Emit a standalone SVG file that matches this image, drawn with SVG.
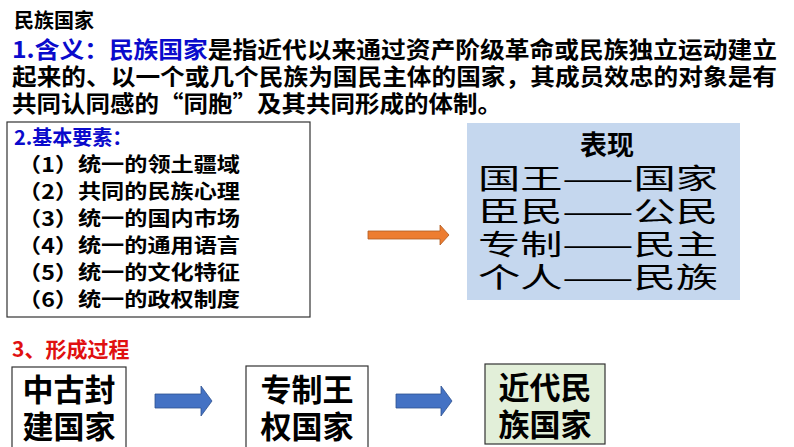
<svg xmlns="http://www.w3.org/2000/svg" width="794" height="447" viewBox="0 0 794 447">
<style>
text{font-family:"Noto Sans CJK SC","Liberation Sans",sans-serif;font-weight:bold;fill:#000}
.b{fill:#0a0acc}.r{fill:#e01010}
.it{font-size:20px;font-weight:bold}
.rw{font-size:28px;font-weight:normal}
.big{font-size:31px}
.bx{fill:#fff;stroke:#333;stroke-width:1.2}
</style>
<defs></defs>
<g id="intro">
<text x="14" y="28" font-size="20">民族国家</text>
<text x="12" y="58" font-size="23" textLength="765" lengthAdjust="spacingAndGlyphs"><tspan class="b">1.含义：民族国家</tspan>是指近代以来通过资产阶级革命或民族独立运动建立</text>
<text x="12" y="85" font-size="23" textLength="765" lengthAdjust="spacingAndGlyphs">起来的、以一个或几个民族为国民主体的国家，其成员效忠的对象是有</text>
<text x="12" y="112" font-size="23" textLength="490" lengthAdjust="spacingAndGlyphs">共同认同感的“同胞”及其共同形成的体制。</text>
</g>
<g id="elements">
<rect class="bx" x="7" y="122" width="303" height="195"/>
<text class="b" x="14" y="145" font-size="20">2.基本要素：</text>
<text class="it" x="18" y="172" textLength="222" lengthAdjust="spacingAndGlyphs">（1）统一的领土疆域</text>
<text class="it" x="18" y="199" textLength="222" lengthAdjust="spacingAndGlyphs">（2）共同的民族心理</text>
<text class="it" x="18" y="226" textLength="222" lengthAdjust="spacingAndGlyphs">（3）统一的国内市场</text>
<text class="it" x="18" y="253" textLength="222" lengthAdjust="spacingAndGlyphs">（4）统一的通用语言</text>
<text class="it" x="18" y="280" textLength="222" lengthAdjust="spacingAndGlyphs">（5）统一的文化特征</text>
<text class="it" x="18" y="307" textLength="222" lengthAdjust="spacingAndGlyphs">（6）统一的政权制度</text>
</g>
<g id="biaoxian">
<rect x="467" y="123" width="273" height="177" fill="#c5d7ee"/>
<text x="607" y="155" font-size="27" text-anchor="middle" font-family="'Noto Serif CJK SC','Noto Sans CJK SC',serif">表现</text>
<text class="rw" x="478" y="189" textLength="240" lengthAdjust="spacingAndGlyphs">国王——国家</text>
<text class="rw" x="478" y="222" textLength="240" lengthAdjust="spacingAndGlyphs">臣民——公民</text>
<text class="rw" x="478" y="255" textLength="240" lengthAdjust="spacingAndGlyphs">专制——民主</text>
<text class="rw" x="478" y="288" textLength="240" lengthAdjust="spacingAndGlyphs">个人——民族</text>
</g>
<text class="r" x="12" y="357" font-size="21">3、形成过程</text>
<g id="n1"><rect class="bx" x="12" y="367" width="114" height="82"/>
<text class="big" x="69" y="401" text-anchor="middle">中古封</text><text class="big" x="69" y="438" text-anchor="middle">建国家</text></g>
<g id="n2"><rect class="bx" x="246" y="366" width="122" height="83"/>
<text class="big" x="307" y="401" text-anchor="middle">专制王</text><text class="big" x="307" y="438" text-anchor="middle">权国家</text></g>
<g id="n3"><rect x="485" y="364" width="120" height="80" fill="#e2efd9" stroke="#333" stroke-width="1.2"/>
<text class="big" x="545" y="399" text-anchor="middle">近代民</text><text class="big" x="545" y="436" text-anchor="middle">族国家</text></g>
<g id="connectors">
<path d="M368 231H440V225L449 235L440 245V239H368Z" fill="#ed7d31" stroke="#ae5a21" stroke-width="0.8"/>
<path d="M155 394H201V386L212 401L201 416V408H155Z" fill="#4472c4" stroke="#2f528f" stroke-width="0.8"/>
<path d="M396 394H441V386L452 401L441 416V408H396Z" fill="#4472c4" stroke="#2f528f" stroke-width="0.8"/>
</g>
</svg>
